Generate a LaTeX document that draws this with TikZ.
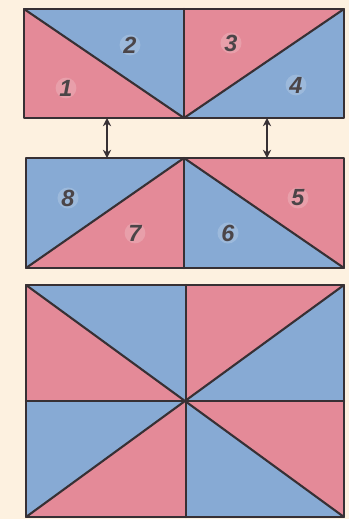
\documentclass[tikz,border=0pt]{standalone}
\usepackage{fontspec}
\newfontfamily\numfont{Liberation Sans}
\usepackage{tikz}
\usetikzlibrary{calc, arrows.meta}
\usepackage{tkz-euclide}
\definecolor{creamc}{RGB}{253,241,224}
\definecolor{pinkc}{RGB}{228,138,152}
\definecolor{bluec}{RGB}{135,170,212}
\definecolor{linec}{RGB}{55,48,52}
\tikzset{
  numlbl/.style={font=\numfont\itshape\bfseries\fontsize{20}{20}\selectfont, text=linec!90,
    circle, inner sep=0pt, fill=white, fill opacity=0.18, text opacity=1},
  edge/.style={draw=linec, line width=1.8pt},
  frame/.style={draw=linec, line width=2pt},
}

\begin{document}
\begin{tikzpicture}[scale=0.3]
            \fill[creamc] (0,0) rectangle (34.9,-51.9);
            \useasboundingbox (0,0) rectangle (34.9,-51.9);
            % upper strip
            \tkzDefPoints{2.4/-0.9/A,18.4/-0.9/B,34.4/-0.9/C,34.4/-11.8/D,18.4/-11.8/E,2.4/-11.8/F}
            % middle strip
            \tkzDefPoints{2.6/-15.8/G,18.4/-15.8/H,34.4/-15.8/I,34.4/-26.8/J,18.4/-26.8/K,2.6/-26.8/L}
            % full rectangle
            \tkzDefPoints{2.6/-28.5/M,18.6/-28.5/N,34.4/-28.5/P,34.4/-40.1/Q,18.6/-40.1/O,2.6/-40.1/S}
            \tkzDefPoints{2.6/-51.7/T,18.6/-51.7/U,34.4/-51.7/V}
            % arrow ends
            \tkzDefPoints{10.7/-11.8/X1,10.7/-15.8/Y1,26.7/-11.8/X2,26.7/-15.8/Y2}
            \tkzFillPolygon[fill=pinkc](A,F,E)
            \tkzFillPolygon[fill=bluec](A,B,E)
            \tkzFillPolygon[fill=pinkc](B,C,E)
            \tkzFillPolygon[fill=bluec](C,D,E)
            \tkzFillPolygon[fill=bluec](G,H,L)
            \tkzFillPolygon[fill=pinkc](L,H,K)
            \tkzFillPolygon[fill=bluec](H,K,J)
            \tkzFillPolygon[fill=pinkc](H,I,J)
            \tkzFillPolygon[fill=bluec](M,N,O)
            \tkzFillPolygon[fill=pinkc](M,O,S)
            \tkzFillPolygon[fill=pinkc](N,P,O)
            \tkzFillPolygon[fill=bluec](P,Q,O)
            \tkzFillPolygon[fill=bluec](S,O,T)
            \tkzFillPolygon[fill=pinkc](T,O,U)
            \tkzFillPolygon[fill=pinkc](O,Q,V)
            \tkzFillPolygon[fill=bluec](O,V,U)
            \tkzDrawSegments[edge](A,E E,C B,E L,H H,J H,K M,V T,P N,U S,Q)
            \tkzDrawPolygon[frame](A,C,D,F)
            \tkzDrawPolygon[frame](G,I,J,L)
            \tkzDrawPolygon[frame](M,P,V,T)
            \tkzDrawSegments[draw=linec, line width=1.3pt, {Stealth[length=7pt,width=7pt]}-{Stealth[length=7pt,width=7pt]}](X1,Y1 X2,Y2)
            \node[numlbl] (n1) at (6.6,-8.8) {1};
            \node[numlbl] (n2) at (13.0,-4.5) {2};
            \node[numlbl] (n3) at (23.1,-4.3) {3};
            \node[numlbl] (n4) at (29.6,-8.5) {4};
            \node[numlbl] (n5) at (29.8,-19.8) {5};
            \node[numlbl] (n6) at (22.8,-23.3) {6};
            \node[numlbl] (n7) at (13.5,-23.3) {7};
            \node[numlbl] (n8) at (6.8,-19.8) {8};
        \end{tikzpicture}
\end{document}
